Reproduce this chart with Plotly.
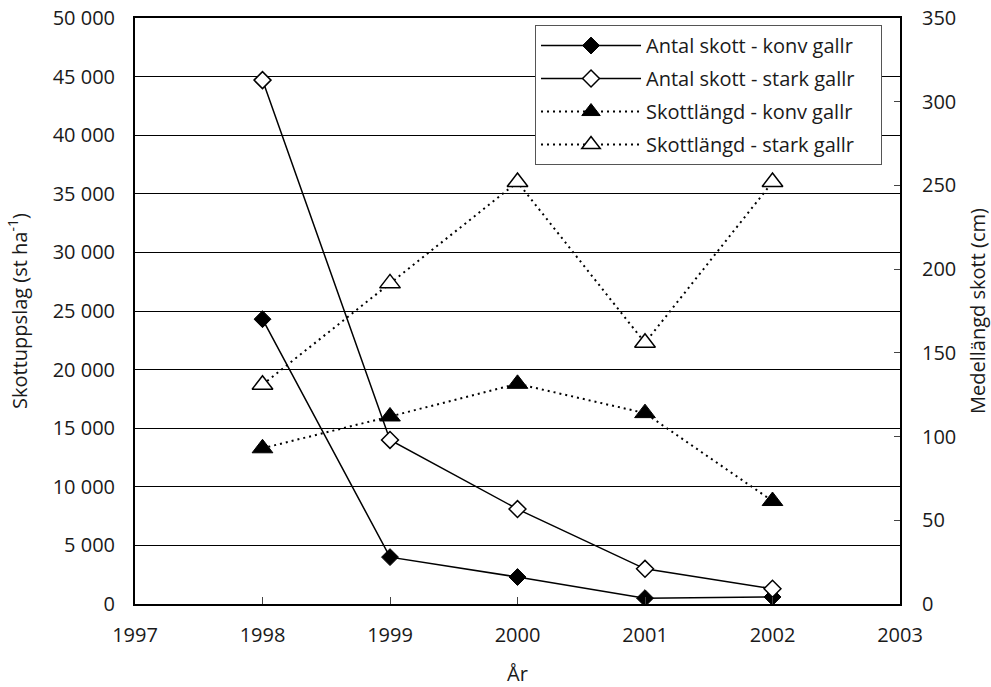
import plotly.graph_objects as go

years = [1998, 1999, 2000, 2001, 2002]
antal_konv = [24300, 4000, 2300, 500, 600]
antal_stark = [44700, 14000, 8100, 3000, 1300]
langd_konv = [93, 112, 131.5, 114, 61.5]
langd_stark = [131, 191.5, 252, 156, 252]

names = ["Antal skott - konv gallr", "Antal skott - stark gallr",
         "Skottlängd - konv gallr", "Skottlängd - stark gallr"]

PAD = "\u00a0" * 4  # right padding inside the legend box

FONT = "Open Sans"
FS = 20
TXT = "#1a1a1a"
fig = go.Figure()
fig.add_trace(go.Scatter(x=years, y=antal_konv, name=names[0] + PAD, mode="lines+markers",
                         legendgroup="g1",
                         line=dict(color="black", width=1.5),
                         marker=dict(symbol="diamond", size=13, color="black",
                                     line=dict(color="black", width=1))))
fig.add_trace(go.Scatter(x=years, y=antal_stark, name=names[1] + PAD, mode="lines+markers",
                         legendgroup="g2",
                         line=dict(color="black", width=1.5),
                         marker=dict(symbol="diamond", size=13, color="white",
                                     line=dict(color="black", width=1.5))))
fig.add_trace(go.Scatter(x=years, y=langd_konv, name=names[2] + PAD, mode="lines+markers",
                         yaxis="y2", legendgroup="g3",
                         line=dict(color="black", width=2, dash="2px,4px"),
                         marker=dict(symbol="triangle-up", size=18, color="black",
                                     line=dict(color="black", width=1))))
fig.add_trace(go.Scatter(x=years, y=langd_stark, name=names[3] + PAD, mode="lines+markers",
                         yaxis="y2", legendgroup="g4",
                         line=dict(color="black", width=2, dash="2px,4px"),
                         marker=dict(symbol="triangle-up", size=18, color="white",
                                     line=dict(color="black", width=1.5))))

fig.update_layout(
    width=991, height=687,
    margin=dict(l=135, r=91, t=18, b=83),
    paper_bgcolor="white", plot_bgcolor="white",
    font=dict(family=FONT, size=FS, color=TXT),
    separators=", ",
    showlegend=True,
    legend=dict(x=0.5229, xanchor="left", y=0.988, yanchor="top",
                bgcolor="white", bordercolor="#555", borderwidth=1,
                font=dict(family=FONT, size=FS, color=TXT),
                tracegroupgap=4, itemwidth=100),
    xaxis=dict(range=[1997, 2003], dtick=1, tick0=1997, showgrid=False,
               automargin=False,
               showline=True, linecolor="black", linewidth=2, mirror=True,
               ticks="inside", ticklen=7, tickcolor="#444", tickwidth=1,
               zeroline=False, ticklabelstandoff=12,
               title=dict(text="År", standoff=24, font=dict(family=FONT, size=FS))),
    yaxis=dict(range=[0, 50000], dtick=5000, tickformat=",d",
               automargin=False,
               showgrid=True, gridcolor="black", gridwidth=1,
               showline=True, linecolor="black", linewidth=2,
               ticks="", zeroline=False, ticklabelstandoff=14,
               title=dict(text="Skottuppslag (st ha<sup>-1</sup>)", standoff=20,
                          font=dict(family=FONT, size=FS))),
    yaxis2=dict(range=[0, 350], dtick=50, overlaying="y", side="right",
                automargin=False,
                showgrid=False, showline=True, linecolor="black", linewidth=2,
                ticks="inside", ticklen=6, tickcolor="#444", tickwidth=1,
                zeroline=False, ticklabelstandoff=16,
                title=dict(text="Medellängd skott (cm)", standoff=25,
                           font=dict(family=FONT, size=FS))),
)

fig.write_html("out.html")
